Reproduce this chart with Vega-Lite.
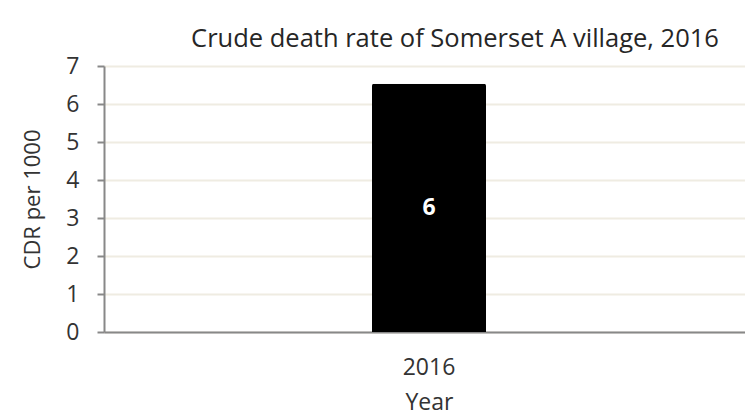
{
  "$schema": "https://vega.github.io/schema/vega-lite/v6.json",
  "autosize": "none",
  "padding": {"left": 104, "top": 66, "right": 0, "bottom": 86},
  "width": 650,
  "height": 266,
  "background": "white",
  "config": {
    "view": {"stroke": null},
    "font": "Open Sans"
  },
  "title": {
    "text": "Crude death rate of Somerset A village, 2016",
    "font": "Open Sans",
    "fontSize": 25.5,
    "fontWeight": "normal",
    "color": "#262626",
    "anchor": "middle",
    "offset": 3,
    "dx": 26
  },
  "data": {"values": [{"Year": "2016", "CDR": 6.53, "label": "6"}]},
  "encoding": {
    "x": {
      "field": "Year",
      "type": "nominal",
      "title": "Year",
      "axis": {
        "labelAngle": 0,
        "labelFontSize": 23,
        "labelColor": "#333333",
        "labelPadding": 24,
        "titleFontSize": 23,
        "titleFontWeight": "normal",
        "titleColor": "#333333",
        "titlePadding": 12,
        "domainColor": "#888888",
        "domainWidth": 2,
        "ticks": false
      }
    },
    "y": {
      "field": "CDR",
      "type": "quantitative",
      "title": "CDR per 1000",
      "scale": {"domain": [0, 7], "nice": false},
      "axis": {
        "values": [0, 1, 2, 3, 4, 5, 6, 7],
        "labelFontSize": 23,
        "labelColor": "#333333",
        "labelPadding": 18,
        "tickSize": 7,
        "tickColor": "#888888",
        "tickWidth": 2,
        "domainColor": "#888888",
        "domainWidth": 2,
        "gridColor": "#efece2",
        "gridWidth": 2,
        "titleFontSize": 22,
        "titleFontWeight": "normal",
        "titleColor": "#333333",
        "titlePadding": 21
      }
    }
  },
  "layer": [
    {
      "mark": {"type": "bar", "color": "black", "width": 114, "cornerRadiusTopLeft": 2, "cornerRadiusTopRight": 2}
    },
    {
      "mark": {"type": "text", "color": "white", "fontSize": 23, "fontWeight": "bold", "font": "Open Sans"},
      "encoding": {
        "y": {"datum": 3.265, "type": "quantitative"},
        "text": {"field": "label"}
      }
    }
  ]
}
